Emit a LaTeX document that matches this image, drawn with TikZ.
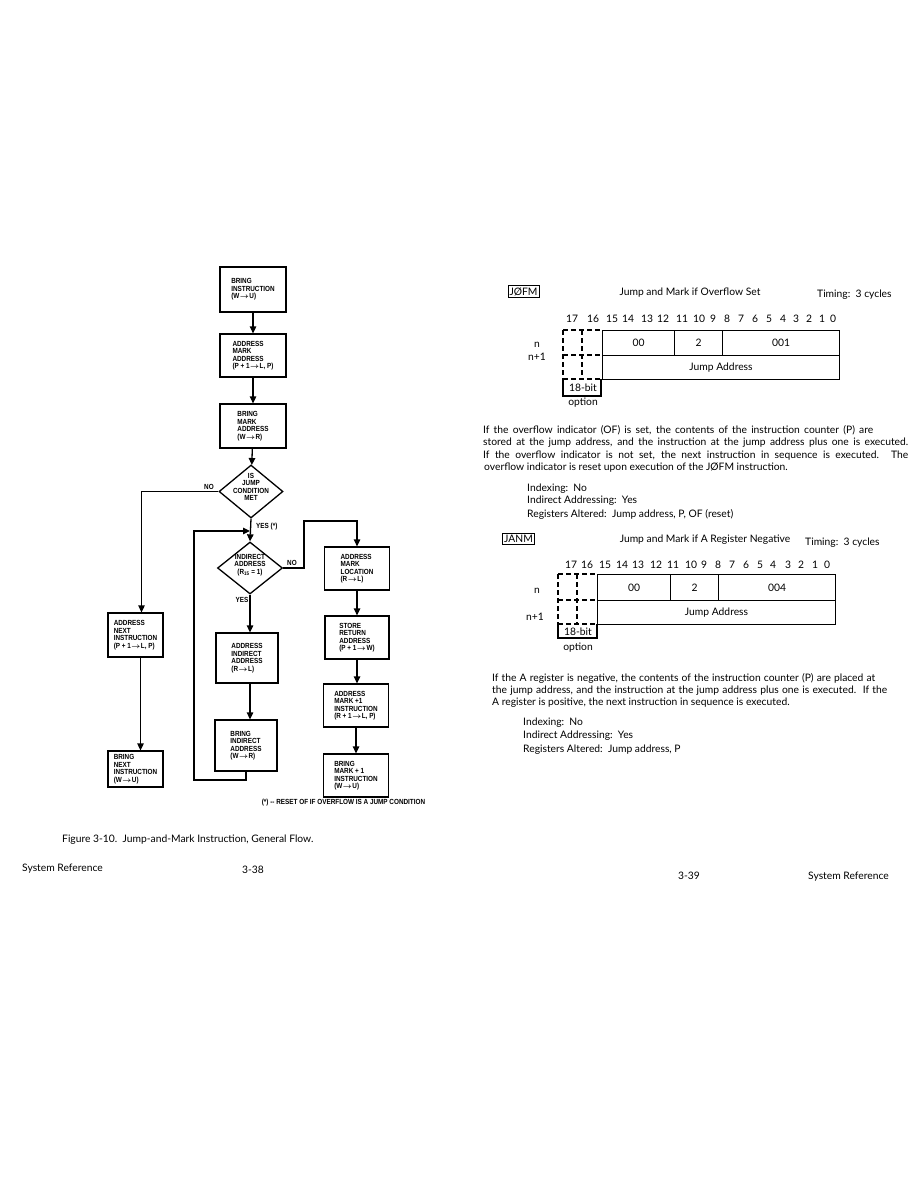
\documentclass[tikz,border=0pt]{standalone}
\usepackage{fontspec}
\setmainfont{Lato}
\newfontfamily\fcf[FakeStretch=0.86]{Liberation Sans}
\usetikzlibrary{shapes.geometric,arrows.meta,calc}
\newcommand\jline[2]{\makebox[#1][s]{#2}}
\newcommand\farr{\kern0.5pt{\boldmath$\rightarrow$}\kern0.5pt}
\begin{document}
\begin{tikzpicture}[x=1pt,y=-1pt,
  ff/.style={font=\fcf\bfseries\fontsize{7.4}{7.5}\selectfont},
  fbox/.style={ff, draw, line width=1.3pt, rectangle, align=left, inner sep=0pt},
  dia/.style={draw, diamond, line width=1.3pt, inner sep=0pt},
  dtxt/.style={ff, align=center, inner sep=0pt},
  lbl/.style={ff, inner sep=0pt},
  arr/.style={line width=1.3pt, -{Triangle[length=7pt,width=6.5pt]}},
  txt/.style={font=\fontsize{10.3}{12}\selectfont, inner sep=0pt},
  cell/.style={txt, draw, line width=1.1pt, rectangle, inner sep=0pt, anchor=north west},
  reg/.style={line width=1.1pt},
  dsh/.style={line width=1.1pt, dash pattern=on 5pt off 3pt},
  mbox/.style={txt, draw, line width=1pt, inner xsep=1.5pt, inner ysep=1.5pt}
]
\useasboundingbox[fill=white] (0,0) rectangle (918,1188);

% ---------- left flowchart ----------
\node[fbox, minimum width=66, minimum height=45] (b1) at (253,289.5) {BRING\\INSTRUCTION\\(W\farr U)};
\node[fbox, minimum width=66, minimum height=43] (b2) at (253,355.5) {ADDRESS\\MARK\\ADDRESS\\(P + 1\farr L, P)};
\node[fbox, minimum width=66, minimum height=44] (b3) at (253,426) {BRING\\MARK\\ADDRESS\\(W\farr R)};
\node[dia, minimum width=64, minimum height=53] (d1) at (251,491.5) {};
\node[dtxt] (d1t) at (251,487) {IS\\JUMP\\CONDITION\\MET};
\node[lbl] (no1) at (209,487) {NO};

\node[fbox, minimum width=55, minimum height=44] (ban) at (135.5,635) {ADDRESS\\NEXT\\INSTRUCTION\\(P + 1\farr L, P)};
\node[fbox, minimum width=55, minimum height=36] (bbn) at (135.5,769) {BRING\\NEXT\\INSTRUCTION\\(W\farr U)};

\node[lbl, anchor=west] (yes1) at (256,527) {YES (*)};
\node[dia, minimum width=65, minimum height=52] (d2) at (250,568) {};
\node[dtxt] (d2t) at (250,565) {INDIRECT\\ADDRESS\\(R\textsubscript{15} = 1)};
\node[lbl] (yes2) at (242,600) {YES};
\node[lbl] (no2) at (292,563) {NO};

\node[fbox, minimum width=62, minimum height=50] (bia) at (247,658) {ADDRESS\\INDIRECT\\ADDRESS\\(R\farr L)};
\node[fbox, minimum width=62, minimum height=51] (bbi) at (246,745.5) {BRING\\INDIRECT\\ADDRESS\\(W\farr R)};

\node[fbox, minimum width=65, minimum height=43] (bml) at (357,568.5) {ADDRESS\\MARK\\LOCATION\\(R\farr L)};
\node[fbox, minimum width=64, minimum height=43] (bsr) at (357,637.5) {STORE\\RETURN\\ADDRESS\\(P + 1\farr W)};
\node[fbox, minimum width=65, minimum height=43] (bm1) at (356,705.5) {ADDRESS\\MARK +1\\INSTRUCTION\\(R + 1\farr L, P)};
\node[fbox, minimum width=65, minimum height=43] (bbm) at (356,775.5) {BRING\\MARK + 1\\INSTRUCTION\\(W\farr U)};

\node[lbl] (foot) at (343.5,803) {(*) -- RESET OF IF OVERFLOW IS A JUMP CONDITION};

\coordinate (j) at (251,531);
\coordinate (lp) at (194,780);
\coordinate (nr) at (304,521);

\draw[arr] (b1) -- (b2);
\draw[arr] (b2) -- (b3);
\draw[arr] (b3) -- (d1);
\draw[arr] (d1.west) -| ($(ban.north)+(6,0)$);
\draw[arr] ($(ban.south)+(5,0)$) -- ($(bbn.north)+(5,0)$);
\draw[arr] (d1.south) -- (d2.north);
\draw[arr] (bbi.south) |- (lp) |- ($(j)+(-1,0)$);
\draw[arr] (d2.south) -- (d2.south |- bia.north);
\draw[arr] (d2.south |- bia.south) -- (d2.south |- bbi.north);
\draw[arr] (d2.east) -| (nr) -| (bml.north);
\draw[arr] (bml.south) -- (bml.south |- bsr.north);
\draw[arr] (bsr.south) -- (bsr.south |- bm1.north);
\draw[arr] (bm1.south) -- (bm1.south |- bbm.north);

\node[txt, anchor=west] (cap) at (62,840) {Figure 3-10.\ \ Jump-and-Mark Instruction, General Flow.};
\node[txt, anchor=west] (f1) at (22,869) {System Reference};
\node[txt] (f2) at (253,870) {3-38};
\node[txt] (f3) at (689,876) {3-39};
\node[txt, anchor=west] (f4) at (808,877) {System Reference};

% ---------- right page: JOFM ----------
\node[mbox] (m1) at (523.5,291.5) {JØFM};
\node[txt] (t1) at (690,293) {Jump and Mark if Overflow Set};
\node[txt, anchor=west] (tm1) at (817,295) {Timing:\ \ 3 cycles};
\foreach \n/\xx [count=\k] in {17/572,16/593,15/612,14/628,13/647,12/663,11/682,10/699,9/713,8/727,7/741,6/755,5/769,4/783,3/796,2/809,1/822,0/833}
  \node[txt] (ba\k) at (\xx,319) {\n};
\node[txt] (na) at (537,345) {n};
\node[txt] (na1) at (537,357) {n+1};
\node[cell, minimum width=72, minimum height=25] (ca1) at (602,330) {00};
\node[cell, minimum width=48, minimum height=25] (ca2) at (674,330) {2};
\node[cell, minimum width=117, minimum height=25] (ca3) at (722,330) {001};
\node[cell, minimum width=237, minimum height=24] (ca4) at (602,355) {Jump Address};
\draw[dsh] (563,330) -- (602,330);
\draw[dsh] (563,355) -- (602,355);
\draw[dsh] (563,379) -- (602,379);
\draw[dsh] (563,330) -- (563,379);
\draw[dsh] (582,330) -- (582,379);
\draw[reg] (563,379) |- (601,396) -- (601,379);
\node[txt] (oa1) at (583,388) {18-bit};
\node[txt] (oa2) at (583,403) {option};

\node[txt, anchor=west] (pa1) at (483,430) {\jline{390pt}{If the overflow indicator (OF) is set, the contents of the instruction counter (P) are}};
\node[txt, anchor=west] (pa2) at (483,443) {\jline{425pt}{stored at the jump address, and the instruction at the jump address plus one is executed.}};
\node[txt, anchor=west] (pa3) at (483,456) {\jline{425pt}{If the overflow indicator is not set, the next instruction in sequence is executed. The}};
\node[txt, anchor=west] (pa4) at (484,468) {overflow indicator is reset upon execution of the JØFM instruction.};
\node[txt, anchor=west] (ia1) at (527,489) {Indexing:\ \ No};
\node[txt, anchor=west] (ia2) at (527,501) {Indirect Addressing:\ \ Yes};
\node[txt, anchor=west] (ia3) at (527,514) {Registers Altered:\ \ Jump address, P, OF (reset)};

% ---------- right page: JANM ----------
\node[mbox] (m2) at (518.5,539) {JANM};
\node[txt] (t2) at (705,540) {Jump and Mark if A Register Negative};
\node[txt, anchor=west] (tm2) at (805,543) {Timing:\ \ 3 cycles};
\foreach \n/\xx [count=\k] in {17/571,16/587,15/605,14/622,13/638,12/656,11/673,10/691,9/704,8/718,7/732,6/746,5/760,4/773,3/788,2/801,1/815,0/827}
  \node[txt] (bb\k) at (\xx,565) {\n};
\node[txt] (nb) at (537,591) {n};
\node[txt] (nb1) at (535,617) {n+1};
\node[cell, minimum width=73, minimum height=26] (cb1) at (597,574) {00};
\node[cell, minimum width=48, minimum height=26] (cb2) at (670,574) {2};
\node[cell, minimum width=117, minimum height=26] (cb3) at (718,574) {004};
\node[cell, minimum width=238, minimum height=24] (cb4) at (597,600) {Jump Address};
\draw[dsh] (558,574) -- (597,574);
\draw[dsh] (558,600) -- (597,600);
\draw[dsh] (558,624) -- (597,624);
\draw[dsh] (558,574) -- (558,624);
\draw[dsh] (577,574) -- (577,624);
\draw[reg] (558,624) |- (597,638) -- (597,624);
\node[txt] (ob1) at (578,632) {18-bit};
\node[txt] (ob2) at (578,648) {option};

\node[txt, anchor=west] (pb1) at (492,678) {\jline{383pt}{If the A register is negative, the contents of the instruction counter (P) are placed at}};
\node[txt, anchor=west] (pb2) at (492,691) {\jline{395pt}{the jump address, and the instruction at the jump address plus one is executed.\ \ If the}};
\node[txt, anchor=west] (pb3) at (492,703) {A register is positive, the next instruction in sequence is executed.};
\node[txt, anchor=west] (ib1) at (523,723) {Indexing:\ \ No};
\node[txt, anchor=west] (ib2) at (523,736) {Indirect Addressing:\ \ Yes};
\node[txt, anchor=west] (ib3) at (523,750) {Registers Altered:\ \ Jump address, P};
\end{tikzpicture}
\end{document}
